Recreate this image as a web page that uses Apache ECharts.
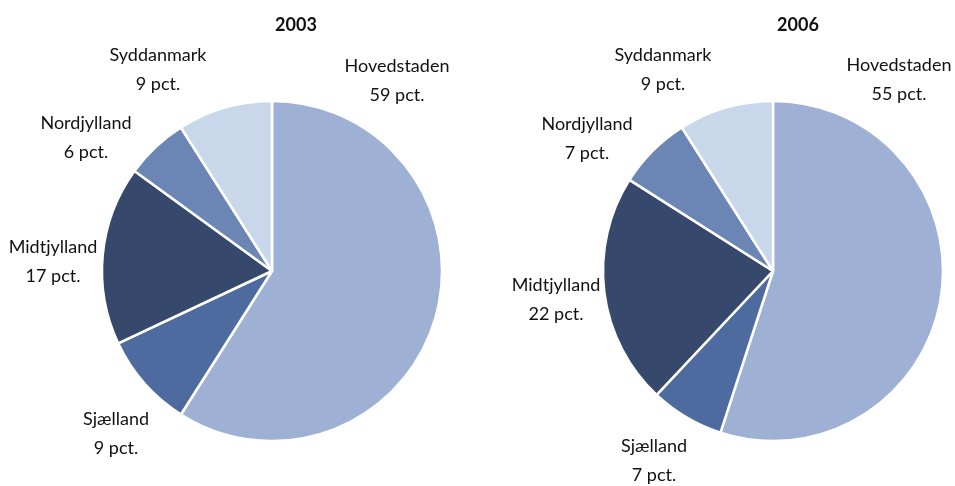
<!DOCTYPE html>
<html>
<head>
<meta charset="utf-8">
<script src="https://cdn.jsdelivr.net/npm/echarts@6/dist/echarts.min.js"></script>
<style>
  html, body { margin: 0; padding: 0; background: #fff; }
  #chart { width: 955px; height: 486px; }
</style>
</head>
<body>
<div id="chart"></div>
<script>
// data
var years = ['2003', '2006'];
var regions = ['Hovedstaden', 'Sjælland', 'Midtjylland', 'Nordjylland', 'Syddanmark'];
var share2003 = [59, 9, 17, 6, 9];
var share2006 = [55, 7, 22, 7, 9];

var colors = ['#9eb0d4', '#4e6ba0', '#36486b', '#6b86b5', '#c8d7ea'];
var font = 'Lato, "Open Sans", sans-serif';

// label centres per pie (px), same order as regions
var labelPos = [
    [[397, 81], [116, 434], [53, 262], [86, 138], [158, 70]],
    [[899, 80], [654, 461], [556, 300], [587, 139], [663, 70]]
];
var pieCenters = [[272, 271], [773, 271]];

function makeData(values) {
    return regions.map(function (name, i) {
        return { name: name, value: values[i], itemStyle: { color: colors[i] } };
    });
}

var chart = echarts.init(document.getElementById('chart'));

var series = [share2003, share2006].map(function (vals, s) {
    return {
        name: years[s],
        type: 'pie',
        center: pieCenters[s],
        radius: 170,
        startAngle: 90,
        clockwise: true,
        animation: false,
        silent: true,
        itemStyle: { borderColor: '#fff', borderWidth: 2.5 },
        label: {
            show: true,
            position: 'outside',
            formatter: '{b}\n{c} pct.',
            color: '#111',
            fontFamily: font,
            fontSize: 18,
            lineHeight: 29,
            align: 'center',
            overflow: 'none'
        },
        labelLine: { show: false },
        labelLayout: function (p) {
            var pos = labelPos[s][p.dataIndex];
            return { x: pos[0], y: pos[1], align: 'center', verticalAlign: 'middle' };
        },
        data: makeData(vals)
    };
});

chart.setOption({
    backgroundColor: '#fff',
    title: [
        { text: years[0], left: 291, top: 11, textAlign: 'center',
          textStyle: { fontFamily: font, fontSize: 18, fontWeight: 'bold', color: '#111' } },
        { text: years[1], left: 793, top: 11, textAlign: 'center',
          textStyle: { fontFamily: font, fontSize: 18, fontWeight: 'bold', color: '#111' } }
    ],
    series: series
});
</script>
</body>
</html>
